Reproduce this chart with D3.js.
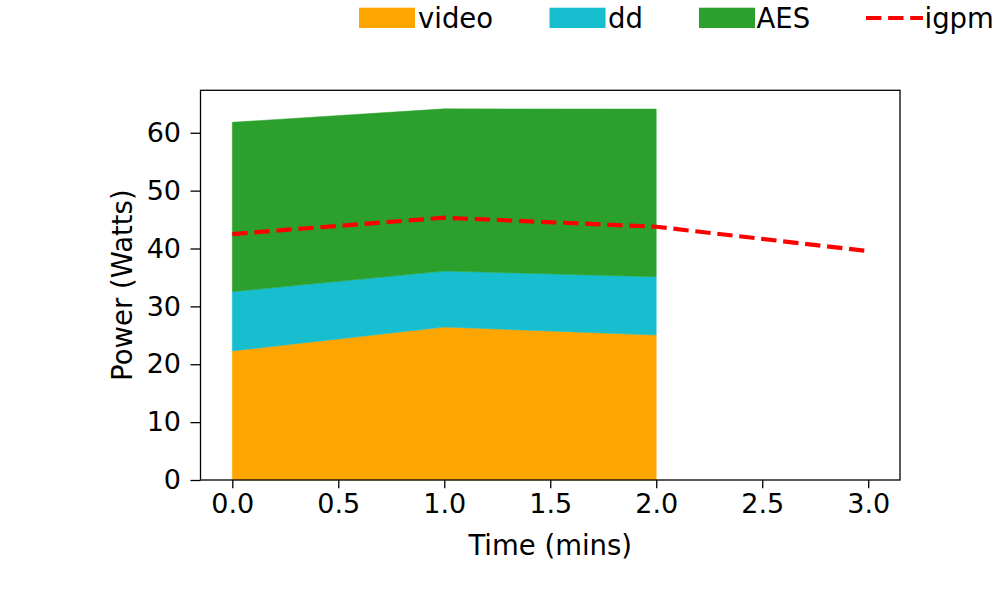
<!DOCTYPE html>
<html>
<head>
<meta charset="utf-8">
<script src="https://cdn.jsdelivr.net/npm/d3@7"></script>
<style>
  html, body { margin: 0; padding: 0; background: #fff; }
  text { font-family: "DejaVu Sans", sans-serif; fill: #000; }
</style>
</head>
<body>
<svg id="chart" width="1000" height="600"></svg>
<script>
// ---- data ----
const times = [0, 1, 2];
const igpmTimes = [0, 1, 2, 3];
const seriesNames = ["video", "dd", "AES"];
const video = [22.3, 26.43, 25.05];
const dd = [10.24, 9.68, 10.07];
const aes = [29.27, 28.02, 28.98];
const igpm = [42.5, 45.32, 43.76, 39.56];
const xTicks = [0.0, 0.5, 1.0, 1.5, 2.0, 2.5, 3.0];
const yTicks = [0, 10, 20, 30, 40, 50, 60];
const colors = { video: "#ffa500", dd: "#17becf", AES: "#2ca02c", igpm: "#ff0000" };

// ---- layout ----
const L = 200.5, R = 900, T = 90.3, B = 480;
const svg = d3.select("#chart");

const rows = times.map((t, i) => ({ t: t, video: video[i], dd: dd[i], AES: aes[i] }));
const stacked = d3.stack().keys(seriesNames)(rows);
const ymaxData = d3.max(stacked[stacked.length - 1], d => d[1]);

const x = d3.scaleLinear().domain([-0.15, 3.15]).range([L, R]);
const y = d3.scaleLinear().domain([0, ymaxData * 1.05]).range([B, T]);

const area = d3.area()
  .x(d => x(d.data.t))
  .y0(d => y(d[0]))
  .y1(d => y(d[1]));

svg.append("g").selectAll("path")
  .data(stacked)
  .join("path")
  .attr("d", area)
  .attr("fill", d => colors[d.key])
  .attr("stroke", d => colors[d.key])
  .attr("stroke-width", 0.5);

const line = d3.line().x((d, i) => x(igpmTimes[i])).y(d => y(d));
svg.append("path")
  .datum(igpm)
  .attr("d", line)
  .attr("fill", "none")
  .attr("stroke", colors.igpm)
  .attr("stroke-width", 4.2)
  .attr("stroke-dasharray", "15.4,6.7");

// ---- axes ----
const xAxis = d3.axisBottom(x).tickValues(xTicks).tickFormat(d3.format(".1f")).tickSize(8.3).tickPadding(6);
const gx = svg.append("g").attr("transform", `translate(0,${B})`).call(xAxis);
gx.select(".domain").remove();
gx.selectAll("line").attr("stroke", "#000").attr("stroke-width", 1.3);
gx.selectAll("text").attr("font-size", 27).attr("font-family", "DejaVu Sans").attr("fill", "#000");

const yAxis = d3.axisLeft(y).tickValues(yTicks).tickFormat(d3.format("d")).tickSize(10).tickPadding(9.5);
const gy = svg.append("g").attr("transform", `translate(${L},0)`).call(yAxis);
gy.select(".domain").remove();
gy.selectAll("line").attr("stroke", "#000").attr("stroke-width", 1.3);
gy.selectAll("text").attr("font-size", 27).attr("font-family", "DejaVu Sans").attr("fill", "#000");

svg.append("rect")
  .attr("x", L).attr("y", T).attr("width", R - L).attr("height", B - T)
  .attr("fill", "none").attr("stroke", "#000").attr("stroke-width", 1.3);

svg.append("text")
  .attr("x", (L + R) / 2).attr("y", 555)
  .attr("text-anchor", "middle").attr("font-size", 27.5)
  .text("Time (mins)");

svg.append("text")
  .attr("transform", `translate(132,${(T + B) / 2}) rotate(-90)`)
  .attr("text-anchor", "middle").attr("font-size", 27.5)
  .text("Power (Watts)");

// ---- legend ----
const legendItems = [
  { name: "video", kind: "patch", x: 359, tx: 418 },
  { name: "dd", kind: "patch", x: 549.5, tx: 608 },
  { name: "AES", kind: "patch", x: 699, tx: 756.5 },
  { name: "igpm", kind: "line", x: 866, tx: 924.5 }
];
const lg = svg.append("g");
legendItems.forEach(it => {
  if (it.kind === "patch") {
    lg.append("rect").attr("x", it.x).attr("y", 7.7).attr("width", 56).attr("height", 20.3)
      .attr("fill", colors[it.name]);
  } else {
    lg.append("line").attr("x1", it.x).attr("x2", it.x + 57).attr("y1", 18).attr("y2", 18)
      .attr("stroke", colors.igpm).attr("stroke-width", 4.2).attr("stroke-dasharray", "15.4,6.7");
  }
  lg.append("text").attr("x", it.tx).attr("y", 27.5).attr("font-size", 27.5).text(it.name);
});
</script>
</body>
</html>
